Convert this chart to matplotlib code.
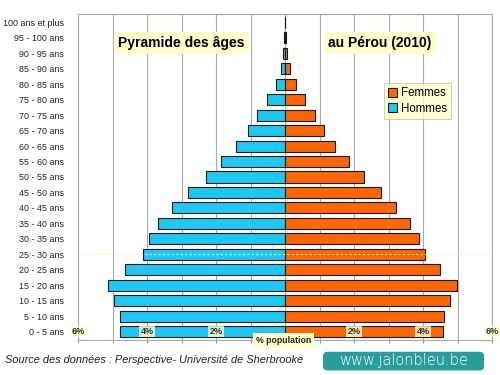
import matplotlib.pyplot as plt
from matplotlib.patches import FancyBboxPatch
import numpy as np

plt.rcParams['font.family'] = ['Liberation Sans', 'DejaVu Sans']

# tranches d'âge (du bas vers le haut)
ages = ["0 - 5 ans", "5 - 10 ans", "10 - 15 ans", "15 - 20 ans", "20 - 25 ans",
        "25 - 30 ans", "30 - 35 ans", "35 - 40 ans", "40 - 45 ans", "45 - 50 ans",
        "50 - 55 ans", "55 - 60 ans", "60 - 65 ans", "65 - 70 ans", "70 - 75 ans",
        "75 - 80 ans", "80 - 85 ans", "85 - 90 ans", "90 - 95 ans", "95 - 100 ans",
        "100 ans et plus"]
hommes = [4.77, 4.77, 4.95, 5.12, 4.63, 4.12, 3.93, 3.67, 3.27, 2.81,
          2.28, 1.85, 1.41, 1.07, 0.80, 0.52, 0.25, 0.12, 0.05, 0.02, 0.01]
femmes = [4.57, 4.62, 4.79, 4.98, 4.50, 4.07, 3.89, 3.63, 3.23, 2.77,
          2.28, 1.85, 1.44, 1.13, 0.88, 0.59, 0.33, 0.14, 0.06, 0.03, 0.01]
ticks = [-6, -4, -2, 2, 4, 6]
tick_labels = ["6%", "4%", "2%", "2%", "4%", "6%"]

bleu = "#1ec8f5"
orange = "#ff6600"
jaune = "#ffffcc"

fig = plt.figure(figsize=(5, 3.75), dpi=100)
ax = fig.add_axes([0.156, 0.093, 0.828, 0.870])

y = np.arange(len(ages))
ax.barh(y, [-v for v in hommes], height=0.72, color=bleu, edgecolor="#1a1a1a", linewidth=0.8, label="Hommes", zorder=3)
ax.barh(y, femmes, height=0.72, color=orange, edgecolor="#1a1a1a", linewidth=0.8, label="Femmes", zorder=3)

ax.set_xlim(-6, 6)
ax.set_ylim(-0.55, len(ages) - 0.45)
ax.set_xticks(range(-6, 7))
ax.set_xticklabels([])
ax.tick_params(axis="x", length=2, color="#999999", direction="out")
ax.grid(axis="x", color="#aaaaaa", linewidth=0.8, zorder=0)
ax.set_yticks(y)
ax.set_yticklabels(ages, fontsize=6.4, color="#222222")
ax.tick_params(axis="y", length=0, pad=10)
for s in ax.spines.values():
    s.set_color("#aaaaaa")
    s.set_linewidth(0.8)

# ligne pointillée jaune (25-30 ans)
ax.axhline(5, color="#f2f2b0", linestyle=(0, (2, 2)), linewidth=0.8, zorder=4)

# étiquettes de pourcentage dans le graphique
for t, lab in zip(ticks, tick_labels):
    ax.text(t, 0, lab, fontsize=6.5, fontweight="bold", ha="center", va="center", color="#333333",
            zorder=5, bbox=dict(boxstyle="square,pad=0.15", fc=jaune, ec="none", alpha=0.8))

ax.text(-0.05, -0.55, "% population", fontsize=6.3, fontweight="bold", ha="center", va="center",
        color="#222222", zorder=6, bbox=dict(boxstyle="square,pad=0.35", fc=jaune, ec="none"))

# titres
ax.text(-3.0, 18.65, "Pyramide des âges", fontsize=10, fontweight="bold", ha="center", va="center",
        zorder=6, bbox=dict(boxstyle="square,pad=0.3", fc=jaune, ec="none"))
ax.text(2.75, 18.65, "au Pérou (2010)", fontsize=10, fontweight="bold", ha="center", va="center",
        zorder=6, bbox=dict(boxstyle="square,pad=0.3", fc=jaune, ec="none"))

h, l = ax.get_legend_handles_labels()
leg = ax.legend([h[1], h[0]], [l[1], l[0]], loc="upper left", bbox_to_anchor=(0.725, 0.805),
                fontsize=8.3, frameon=True, fancybox=False, handlelength=0.8, handleheight=0.8,
                handletextpad=0.3, borderpad=0.35, labelspacing=0.3)
leg.get_frame().set_facecolor(jaune)
leg.get_frame().set_edgecolor("#bbbb88")
leg.get_frame().set_linewidth(0.6)

# pied de page
fig.text(0.01, 0.040, "Source des données : Perspective- Université de Sherbrooke", fontsize=7.9,
         style="italic", color="#222222", va="center")
box = FancyBboxPatch((0.646, 0.012), 0.322, 0.050, boxstyle="round,pad=0,rounding_size=0.01",
                     transform=fig.transFigure, fc="#2a9d9b", ec="none")
fig.patches.append(box)
fig.text(0.807, 0.038, "www.jalonbleu.be", fontsize=10.5, color="white", ha="center", va="center",
         family="DejaVu Sans", fontweight="light")

plt.savefig("out.png", dpi=100)
